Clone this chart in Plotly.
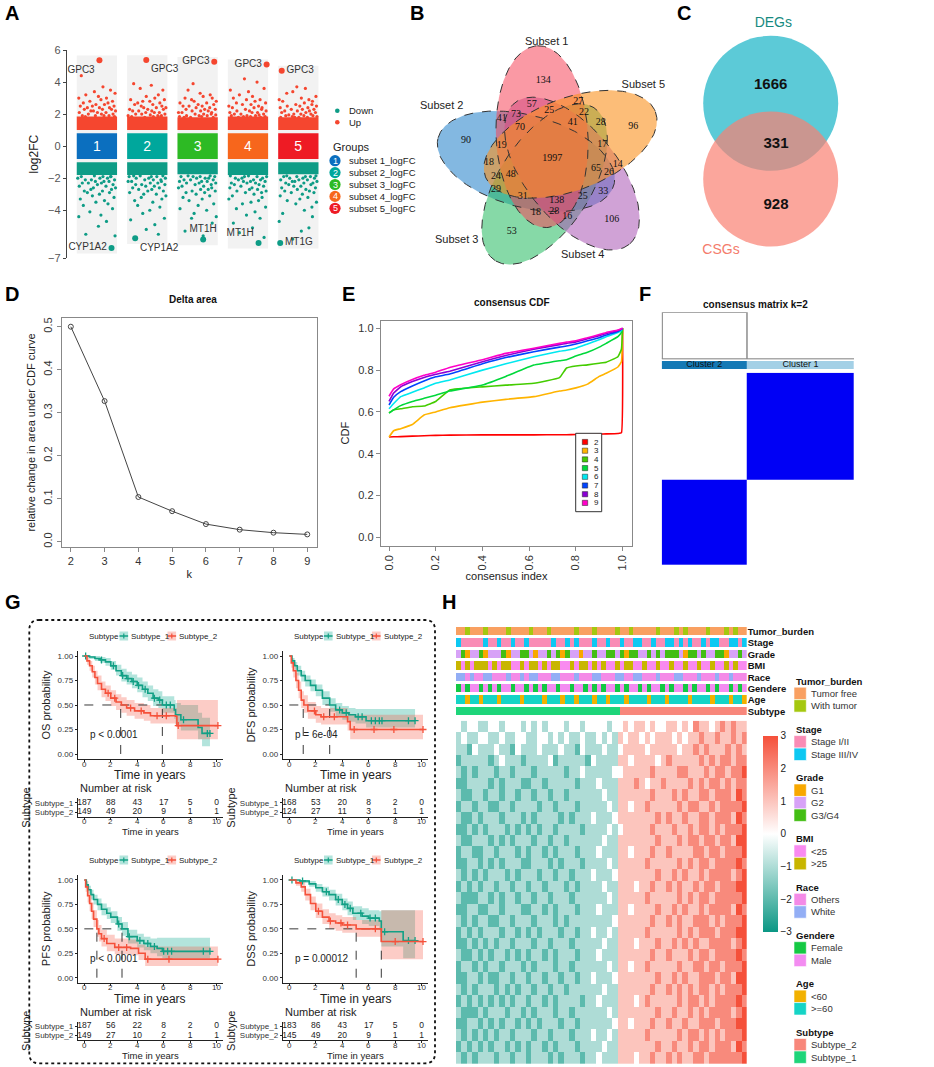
import numpy as np
import plotly.graph_objects as go

W, H = 934, 1067
FONT = "Liberation Sans, Arial, sans-serif"
SERIF = "Liberation Serif, Times New Roman, serif"

def xd(a, b): return [a / W, b / W]
def yd(top, bot): return [1 - bot / H, 1 - top / H]
def px(x): return x / W
def py(y): return 1 - y / H

# ======================= DATA =======================
# ---- Panel A (log2FC per subset)
a_groups = ["subset 1_logFC", "subset 2_logFC", "subset 3_logFC", "subset 4_logFC", "subset 5_logFC"]
a_group_ids = ["1", "2", "3", "4", "5"]
a_up_g1 = [4.4, 3.7, 3.5, 3.4, 3.3, 3.2, 3.1, 3.0, 3.0, 2.9, 2.8, 2.8, 2.7, 2.7, 2.6, 2.6, 2.5, 2.5, 2.5, 2.4, 2.4, 2.4, 2.3, 2.3, 2.3, 2.2, 2.2, 2.2, 2.1, 2.1, 2.1, 2.0, 2.0, 2.0, 1.9, 1.9, 1.9, 1.9, 1.85, 1.85]
a_up_g2 = [3.8, 3.6, 3.5, 3.9, 3.2, 3.1, 3.0, 2.9, 2.9, 2.8, 2.8, 2.7, 2.7, 2.6, 2.6, 2.5, 2.5, 2.4, 2.4, 2.4, 2.3, 2.3, 2.3, 2.2, 2.2, 2.2, 2.1, 2.1, 2.1, 2.0, 2.0, 2.0, 1.95, 1.9, 1.9, 1.9, 1.85, 1.85, 1.85, 1.8]
a_up_g3 = [3.9, 3.3, 3.2, 3.5, 3.1, 3.0, 3.0, 2.9, 2.8, 2.8, 2.7, 2.7, 2.6, 2.6, 2.5, 2.5, 2.5, 2.4, 2.4, 2.3, 2.3, 2.3, 2.2, 2.2, 2.2, 2.1, 2.1, 2.1, 2.0, 2.0, 2.0, 1.95, 1.9, 1.9, 1.9, 1.85, 1.85, 1.8, 1.8, 1.8]
a_up_g4 = [4.2, 4.0, 3.5, 3.4, 3.6, 3.2, 3.1, 3.0, 2.9, 2.9, 2.8, 2.7, 2.7, 2.6, 2.6, 2.5, 2.5, 2.4, 2.4, 2.4, 2.3, 2.3, 2.2, 2.2, 2.2, 2.1, 2.1, 2.1, 2.0, 2.0, 2.0, 1.95, 1.9, 1.9, 1.9, 1.85, 1.85, 1.85, 1.8, 1.8]
a_up_g5 = [3.7, 3.6, 3.3, 3.1, 3.4, 3.0, 2.9, 2.9, 2.8, 2.8, 2.7, 2.6, 2.6, 2.5, 2.5, 2.5, 2.4, 2.4, 2.3, 2.3, 2.3, 2.2, 2.2, 2.2, 2.1, 2.1, 2.1, 2.0, 2.0, 2.0, 1.95, 1.9, 1.9, 1.9, 1.85, 1.85, 1.8, 1.8, 1.8, 1.8]
a_down_g1 = [-5.6, -5.5, -5.0, -4.7, -4.4, -4.3, -4.1, -3.9, -3.7, -3.6, -3.5, -3.4, -3.3, -3.2, -3.1, -3.0, -2.9, -2.9, -2.8, -2.8, -2.7, -2.7, -2.6, -2.6, -2.5, -2.5, -2.4, -2.4, -2.3, -2.3, -2.3, -2.2, -2.2, -2.2, -2.1, -2.1, -2.1, -2.0, -2.0, -2.0, -1.9, -1.9, -1.9, -1.9, -1.85]
a_down_g2 = [-5.5, -5.2, -4.9, -4.6, -4.5, -4.2, -4.0, -3.8, -3.7, -3.5, -3.4, -3.3, -3.2, -3.1, -3.0, -3.0, -2.9, -2.8, -2.8, -2.7, -2.7, -2.6, -2.6, -2.5, -2.5, -2.4, -2.4, -2.4, -2.3, -2.3, -2.2, -2.2, -2.2, -2.1, -2.1, -2.1, -2.0, -2.0, -2.0, -1.9, -1.9, -1.9, -1.85, -1.85, -1.85]
a_down_g3 = [-5.6, -5.3, -4.8, -4.5, -4.4, -4.2, -4.0, -3.9, -3.7, -3.6, -3.4, -3.3, -3.2, -3.1, -3.0, -2.9, -2.9, -2.8, -2.8, -2.7, -2.7, -2.6, -2.6, -2.5, -2.5, -2.4, -2.4, -2.3, -2.3, -2.3, -2.2, -2.2, -2.2, -2.1, -2.1, -2.1, -2.0, -2.0, -2.0, -1.9, -1.9, -1.9, -1.9, -1.85, -1.85]
a_down_g4 = [-5.7, -5.4, -5.1, -4.8, -4.5, -4.3, -4.1, -3.9, -3.8, -3.6, -3.5, -3.4, -3.3, -3.2, -3.1, -3.0, -2.9, -2.9, -2.8, -2.8, -2.7, -2.7, -2.6, -2.6, -2.5, -2.5, -2.4, -2.4, -2.3, -2.3, -2.3, -2.2, -2.2, -2.2, -2.1, -2.1, -2.1, -2.0, -2.0, -2.0, -1.9, -1.9, -1.9, -1.85, -1.85]
a_down_g5 = [-5.8, -5.3, -5.1, -4.7, -4.4, -4.2, -4.0, -3.8, -3.6, -3.5, -3.4, -3.3, -3.2, -3.1, -3.0, -2.9, -2.9, -2.8, -2.8, -2.7, -2.7, -2.6, -2.6, -2.5, -2.5, -2.4, -2.4, -2.3, -2.3, -2.3, -2.2, -2.2, -2.2, -2.1, -2.1, -2.1, -2.0, -2.0, -2.0, -1.9, -1.9, -1.9, -1.9, -1.85, -1.85]
a_up_dense_top = [1.85, 1.85, 1.8, 1.85, 1.8]
a_down_dense_bottom = [-1.8, -1.8, -1.75, -1.8, -1.75]
a_top_genes = ["GPC3", "GPC3", "GPC3", "GPC3", "GPC3"]
a_top_vals = [5.36, 5.37, 5.27, 5.10, 4.71]
a_bottom_genes = ["CYP1A2", "CYP1A2", "MT1H", "MT1H", "MT1G"]
a_bottom_vals = [-6.35, -5.75, -5.83, -6.04, -6.04]
a_legend_dir = ["Down", "Up"]

# ---- Panel B (5-set Venn)
b_sets = ["Subset 1", "Subset 2", "Subset 3", "Subset 4", "Subset 5"]
b_counts = [134, 57, 27, 96, 41, 73, 25, 22, 70, 41, 28, 90, 19, 17, 1997, 18, 14, 48, 65, 26,
            24, 29, 33, 31, 138, 25, 106, 18, 28, 16, 53]

# ---- Panel C (2-set Venn)
c_sets = ["DEGs", "CSGs"]
c_counts = [1666, 331, 928]

# ---- Panel D (delta area)
d_k = [2, 3, 4, 5, 6, 7, 8, 9]
d_delta = [0.500, 0.327, 0.104, 0.071, 0.041, 0.028, 0.021, 0.017]

# ---- Panel E (consensus CDF)
e_index = [0, 0.02, 0.05, 0.1, 0.15, 0.2, 0.26, 0.4, 0.5, 0.62, 0.73, 0.76, 0.8, 0.85, 0.9, 0.93, 0.98, 0.995, 1.0]
e_k = [2, 3, 4, 5, 6, 7, 8, 9]
e_cdf_k2 = [0.48, 0.481, 0.482, 0.484, 0.486, 0.488, 0.489, 0.49, 0.49, 0.49, 0.491, 0.491, 0.492, 0.493, 0.494, 0.495, 0.497, 0.50, 1.0]
e_cdf_k3 = [0.48, 0.51, 0.52, 0.54, 0.585, 0.60, 0.62, 0.647, 0.66, 0.673, 0.70, 0.705, 0.715, 0.733, 0.77, 0.785, 0.815, 0.84, 1.0]
e_cdf_k4 = [0.595, 0.61, 0.615, 0.625, 0.628, 0.65, 0.705, 0.72, 0.728, 0.737, 0.764, 0.81, 0.82, 0.825, 0.833, 0.838, 0.864, 0.90, 1.0]
e_cdf_k5 = [0.595, 0.61, 0.63, 0.65, 0.665, 0.68, 0.70, 0.729, 0.77, 0.824, 0.845, 0.85, 0.867, 0.885, 0.91, 0.928, 0.96, 0.98, 1.0]
e_cdf_k6 = [0.615, 0.64, 0.673, 0.694, 0.715, 0.737, 0.753, 0.80, 0.83, 0.864, 0.89, 0.895, 0.905, 0.925, 0.945, 0.96, 0.98, 0.99, 1.0]
e_cdf_k7 = [0.633, 0.67, 0.697, 0.724, 0.748, 0.768, 0.781, 0.83, 0.86, 0.888, 0.91, 0.915, 0.925, 0.94, 0.955, 0.968, 0.985, 0.995, 1.0]
e_cdf_k8 = [0.65, 0.69, 0.72, 0.745, 0.765, 0.78, 0.795, 0.84, 0.87, 0.90, 0.922, 0.928, 0.935, 0.95, 0.965, 0.975, 0.99, 0.997, 1.0]
e_cdf_k9 = [0.675, 0.71, 0.73, 0.755, 0.775, 0.79, 0.813, 0.85, 0.88, 0.905, 0.928, 0.934, 0.94, 0.955, 0.97, 0.98, 0.992, 0.998, 1.0]

# ---- Panel F (consensus matrix k=2)
f_cluster_names = ["Cluster 2", "Cluster 1"]
f_cluster_sizes = [149, 187]
f_within = 1.0
f_between = 0.0
f_merge_height = 1.0

# ---- Panel G (Kaplan-Meier)
OS_T1 = [0, 0.4, 0.8, 1.2, 1.6, 2.0, 2.4, 2.8, 3.2, 3.6, 4.0, 4.4, 4.8, 5.2, 5.6, 5.9, 6.8, 6.9, 7.3, 8.6, 8.9, 9.5]
OS_S1 = [1.0, 0.99, 0.975, 0.96, 0.94, 0.90, 0.85, 0.80, 0.77, 0.74, 0.70, 0.66, 0.62, 0.57, 0.55, 0.50, 0.45, 0.40, 0.35, 0.27, 0.21, 0.21]
OS_U1 = [1.0, 1.0, 1.0, 0.99, 0.98, 0.95, 0.91, 0.87, 0.84, 0.81, 0.78, 0.74, 0.70, 0.66, 0.64, 0.59, 0.55, 0.52, 0.50, 0.42, 0.37, 0.37]
OS_L1 = [1.0, 0.97, 0.95, 0.93, 0.90, 0.86, 0.80, 0.74, 0.71, 0.67, 0.63, 0.58, 0.54, 0.49, 0.47, 0.42, 0.36, 0.30, 0.24, 0.15, 0.08, 0.08]
OS_T2 = [0, 0.2, 0.4, 0.6, 0.8, 1.0, 1.3, 1.6, 2.0, 2.4, 2.8, 3.2, 3.8, 4.5, 5.0, 6.9, 7.0, 10.1]
OS_S2 = [1.0, 0.95, 0.90, 0.84, 0.78, 0.72, 0.66, 0.62, 0.57, 0.53, 0.50, 0.47, 0.44, 0.42, 0.39, 0.385, 0.29, 0.29]
OS_U2 = [1.0, 0.99, 0.95, 0.90, 0.85, 0.80, 0.74, 0.70, 0.65, 0.61, 0.58, 0.55, 0.52, 0.50, 0.47, 0.47, 0.55, 0.55]
OS_L2 = [1.0, 0.91, 0.85, 0.78, 0.71, 0.65, 0.58, 0.54, 0.49, 0.45, 0.42, 0.39, 0.36, 0.34, 0.31, 0.30, 0.15, 0.15]
OS_C1 = [0.1, 1.3, 2.2, 2.9, 3.3, 3.7, 4.1, 4.6, 5.3, 5.7, 6.2, 6.5, 7.5, 9.3, 9.5]
OS_C2 = [1.8, 2.3, 3.5, 4.3, 5.5, 6.2, 7.1, 10.1]
OS_MED = [2.75, 5.9]
OS_R1 = [187, 88, 43, 17, 5, 0]
OS_R2 = [149, 49, 20, 9, 1, 1]

DFS_T1 = [0, 0.2, 0.4, 0.6, 0.9, 1.2, 1.6, 2.0, 2.5, 3.05, 3.5, 4.0, 4.5, 5.0, 5.8, 9.5]
DFS_S1 = [1.0, 0.95, 0.90, 0.85, 0.80, 0.75, 0.70, 0.65, 0.57, 0.50, 0.45, 0.42, 0.40, 0.38, 0.34, 0.34]
DFS_U1 = [1.0, 0.98, 0.94, 0.90, 0.85, 0.80, 0.76, 0.71, 0.64, 0.57, 0.52, 0.49, 0.47, 0.46, 0.46, 0.46]
DFS_L1 = [1.0, 0.92, 0.86, 0.80, 0.74, 0.69, 0.64, 0.59, 0.50, 0.43, 0.38, 0.35, 0.33, 0.31, 0.27, 0.27]
DFS_T2 = [0, 0.15, 0.3, 0.5, 0.7, 0.9, 1.1, 1.4, 2.0, 2.4, 4.2, 4.4, 4.6, 10.1]
DFS_S2 = [1.0, 0.93, 0.85, 0.75, 0.65, 0.55, 0.50, 0.44, 0.40, 0.38, 0.38, 0.33, 0.25, 0.25]
DFS_U2 = [1.0, 0.98, 0.92, 0.83, 0.74, 0.64, 0.60, 0.53, 0.49, 0.47, 0.47, 0.43, 0.40, 0.40]
DFS_L2 = [1.0, 0.88, 0.78, 0.67, 0.57, 0.47, 0.42, 0.36, 0.32, 0.30, 0.30, 0.24, 0.15, 0.15]
DFS_C1 = [3.8, 4.3, 5.2, 5.5, 6.2, 6.5, 6.8, 7.0, 9.0, 9.5]
DFS_C2 = [1.9, 2.6, 3.4, 4.9, 6.4, 7.9, 10.1]
DFS_MED = [1.05, 3.05]
DFS_R1 = [168, 53, 20, 8, 2, 0]
DFS_R2 = [124, 27, 11, 3, 1, 1]

PFS_T1 = [0, 0.15, 0.3, 0.5, 0.7, 1.0, 1.3, 1.7, 2.0, 2.5, 2.85, 3.3, 4.0, 4.5, 5.0, 5.5, 5.9, 9.5]
PFS_S1 = [1.0, 0.95, 0.90, 0.85, 0.80, 0.75, 0.70, 0.66, 0.62, 0.55, 0.50, 0.42, 0.38, 0.35, 0.32, 0.30, 0.27, 0.27]
PFS_U1 = [1.0, 0.99, 0.94, 0.90, 0.85, 0.81, 0.76, 0.72, 0.68, 0.62, 0.57, 0.49, 0.45, 0.42, 0.40, 0.41, 0.41, 0.41]
PFS_L1 = [1.0, 0.91, 0.86, 0.80, 0.75, 0.69, 0.64, 0.60, 0.56, 0.48, 0.43, 0.35, 0.31, 0.28, 0.25, 0.22, 0.20, 0.20]
PFS_T2 = [0, 0.1, 0.25, 0.4, 0.55, 0.7, 0.95, 1.1, 1.3, 1.7, 2.3, 3.5, 4.1, 4.6, 10.1]
PFS_S2 = [1.0, 0.93, 0.84, 0.76, 0.68, 0.60, 0.50, 0.45, 0.40, 0.35, 0.31, 0.30, 0.25, 0.19, 0.19]
PFS_U2 = [1.0, 0.98, 0.91, 0.84, 0.77, 0.69, 0.59, 0.54, 0.49, 0.44, 0.40, 0.39, 0.34, 0.32, 0.32]
PFS_L2 = [1.0, 0.88, 0.77, 0.68, 0.60, 0.52, 0.42, 0.37, 0.32, 0.27, 0.24, 0.23, 0.18, 0.12, 0.12]
PFS_C1 = [2.6, 3.4, 4.2, 4.8, 5.3, 6.0, 6.3, 6.6, 9.0, 9.5]
PFS_C2 = [1.5, 2.6, 3.2, 4.8, 6.4, 10.1]
PFS_MED = [0.95, 2.85]
PFS_R1 = [187, 56, 22, 8, 2, 0]
PFS_R2 = [149, 27, 10, 2, 1, 1]

DSS_T1 = [0, 0.8, 1.5, 2.0, 2.5, 3.0, 3.5, 4.0, 4.4, 4.8, 5.5, 6.0, 6.8, 6.95, 8.6, 9.5]
DSS_S1 = [1.0, 0.99, 0.96, 0.92, 0.88, 0.85, 0.80, 0.75, 0.71, 0.66, 0.63, 0.61, 0.58, 0.47, 0.38, 0.38]
DSS_U1 = [1.0, 1.0, 0.99, 0.96, 0.93, 0.90, 0.86, 0.81, 0.78, 0.73, 0.71, 0.69, 0.68, 0.69, 0.69, 0.69]
DSS_L1 = [1.0, 0.97, 0.93, 0.88, 0.83, 0.79, 0.74, 0.69, 0.64, 0.59, 0.55, 0.53, 0.49, 0.32, 0.20, 0.20]
DSS_T2 = [0, 0.5, 0.9, 1.2, 1.6, 2.0, 2.5, 3.0, 3.5, 4.0, 5.05, 6.95, 10.1]
DSS_S2 = [1.0, 0.97, 0.93, 0.85, 0.76, 0.68, 0.62, 0.58, 0.56, 0.54, 0.50, 0.37, 0.37]
DSS_U2 = [1.0, 1.0, 0.98, 0.91, 0.83, 0.76, 0.70, 0.66, 0.64, 0.62, 0.59, 0.69, 0.69]
DSS_L2 = [1.0, 0.94, 0.88, 0.79, 0.69, 0.61, 0.55, 0.50, 0.48, 0.46, 0.42, 0.19, 0.19]
DSS_C1 = [0.2, 1.0, 2.8, 3.7, 4.2, 4.6, 5.4, 6.1, 6.5, 7.2, 9.0, 9.5]
DSS_C2 = [2.2, 3.1, 3.9, 4.4, 6.5, 8.0, 10.1]
DSS_MED = [5.05, 6.95]
DSS_R1 = [183, 86, 43, 17, 5, 0]
DSS_R2 = [145, 49, 20, 9, 1, 1]

km_subtypes = ["Subtype_1", "Subtype_2"]
km_pvals = ["p < 0.0001", "p = 6e-04", "p < 0.0001", "p = 0.00012"]
km_ylabels = ["OS probability", "DFS probability", "PFS probability", "DSS probability"]
risk_times = [0, 2, 4, 6, 8, 10]

# ---- Panel H (heatmap + annotations); digits 0..6 -> z = digit - 3
h_rows = [
    "32332 23323 33232 32333 23323 33323 | 3434 4343 3443 4354 4345 4544",
    "23223 32232 23322 33232 32232 23232 | 4344 3434 4434 3445 4454 4545",
    "22132 22322 13222 32223 22132 22322 | 3444 4344 4443 4454 5444 5454",
    "12222 21232 22122 22312 22221 32222 | 4434 4443 4544 4445 4545 5455",
    "21212 22122 12221 22222 12232 22223 | 3444 4454 4445 5444 5455 4556",
    "11222 21212 22112 21222 22122 23222 | 4445 4344 5444 4545 4554 5455",
    "21122 12212 21221 22122 12222 22322 | 4444 4454 4454 5445 5455 5465",
    "12212 21122 12222 12212 22122 22232 | 4434 4544 4445 4554 4545 5556",
    "21121 22212 22121 22221 21222 32223 | 4444 4445 4544 5445 5455 5465",
    "11212 12221 21212 12212 22212 22232 | 3444 4454 4454 4545 5454 5556",
    "21122 21212 12221 22122 12222 22322 | 4444 4445 4445 4554 5545 5466",
    "12211 22122 21212 21212 22122 23222 | 4434 4454 4544 4455 4554 5556",
    "11221 21212 22112 22121 22212 22232 | 4444 4544 4445 4545 5455 5565",
    "21212 12221 21222 12212 21222 32223 | 4444 4445 4454 5445 4555 5456",
    "12121 22122 12212 21222 12122 22322 | 4443 4454 4545 4454 5545 5566",
    "21112 21212 21221 22122 21222 22232 | 4444 4544 4445 4545 5455 5556",
    "11221 12212 22112 21212 22122 23222 | 4434 4445 4454 5445 4555 5465",
    "21212 21122 12221 22212 12222 22223 | 4444 4454 4545 4455 5454 5556",
    "12121 22212 21212 12221 22122 32232 | 4444 4544 4445 4545 5545 5566",
    "11212 12122 12221 22122 21222 22322 | 4443 4445 4454 5454 4555 5456",
    "21121 21221 21212 21212 22122 23222 | 4444 4454 4544 4545 5455 5565",
    "12212 12212 22121 22212 21222 22232 | 4434 4544 4445 4455 4554 5556",
    "11221 21122 12212 21221 22122 32223 | 4444 4445 4454 5445 5545 5466",
    "21212 22121 21221 22122 12222 22322 | 4444 4454 4545 4545 5454 5556",
    "12121 21212 12212 21212 22212 23222 | 4443 4544 4445 4554 5455 5565",
    "21112 12221 22121 22212 21222 22232 | 4444 4445 4454 4545 4555 5456",
    "11221 21212 21212 12221 22122 22223 | 4434 4454 4544 5445 5545 5566",
    "21212 12122 12221 22122 21222 32232 | 4444 4544 4445 4554 5454 5556",
    "12121 21221 21212 21212 22122 22322 | 4444 4445 4454 4545 5455 5465",
    "21212 22122 12212 22121 22212 23222 | 4443 4454 4545 4455 4555 5556",
]
h_track_names = ["Tumor_burden", "Stage", "Grade", "BMI", "Race", "Gendere", "Age", "Subtype"]
h_tracks = [
    "ffwfffwf fffwffff wfffwfff ffwfffwf fffwffwf ffffwfff wfwffffw fffwfwff",
    "leeeeele eleeleel eeeeelee leleeele eleeleel leeleell eleleele lleellel",
    "23122312 22312233 21223231 32212232 23323133 22323233 32133232 23312232",
    "ououooou ouoouuou oououoou uouoouou ouuouoou uouuouuo uuouuouu ouuououu",
    "yyxyxxyy xxxyxxyx yyxxxyyx xxyxxxyy xxxyyxxy yxxxyxxx yyxxxyxx xyxxyxxx",
    "FMFMMFMF MFMMFMMF MFMFMMFM MFMMFMFM FMMFMFMM FMFMMFMF MMFMFMMF MFMMFMFM",
    "bbabbabb babbbbab bbbabbba bbabbbab babbbabb bbabbbab bbbabbbb abbbabba",
    "11111111 11111111 11111111 11111111 11112222 22222222 22222222 22222222",
]
h_track_codes = [
    {"f": "Tumor free", "w": "With tumor"},
    {"e": "Stage I/II", "l": "Stage III/IV"},
    {"1": "G1", "2": "G2", "3": "G3/G4"},
    {"u": "<25", "o": ">25"},
    {"x": "Others", "y": "White"},
    {"F": "Female", "M": "Male"},
    {"a": "<60", "b": ">=60"},
    {"2": "Subtype_2", "1": "Subtype_1"},
]
h_legend_levels = [
    ["Tumor free", "With tumor"], ["Stage I/II", "Stage III/IV"], ["G1", "G2", "G3/G4"],
    ["<25", ">25"], ["Others", "White"], ["Female", "Male"], ["<60", ">=60"],
    ["Subtype_2", "Subtype_1"],
]

# ======================= STYLE =======================
A_UP = "#F5462F"
A_DOWN = "#0E9C86"
A_BOX = ["#0B6FBF", "#00A79C", "#2DBA24", "#F7661C", "#EE1B24"]
TEAL = "#12A085"
RED = "#F5513B"
TEAL_F = "rgba(18,170,145,0.32)"
RED_F = "rgba(245,85,65,0.30)"
E_COLORS = ["#FF0000", "#FFB400", "#44CC00", "#00D83A", "#00E8F0", "#0044FF", "#8A00D4", "#FF00C8"]
B_FILLS = ["rgba(245,70,90,0.55)", "rgba(30,125,200,0.55)", "rgba(35,185,95,0.55)",
           "rgba(170,85,180,0.55)", "rgba(250,145,30,0.6)"]
B_DRAW_ORDER = [1, 2, 3, 0, 4]
CAT_COLORS = {
    "Tumor free": "#F9A061", "With tumor": "#A5C80F",
    "Stage I/II": "#F98CB5", "Stage III/IV": "#0DC8F2",
    "G1": "#F8A800", "G2": "#D7A2F7", "G3/G4": "#43BE14",
    "<25": "#F98AF0", ">25": "#C8B600",
    "Others": "#F48AE7", "White": "#93AEF5",
    "Female": "#14C943", "Male": "#F38CF1",
    "<60": "#F2B100", ">=60": "#15D4C6",
    "Subtype_2": "#F8877B", "Subtype_1": "#1ED57A",
}

def esc(s):
    return s.replace("&", "&amp;").replace("<", "&lt;").replace(">", "&gt;")

# ======================= BUILD =======================
traces = []
shapes = []
annotations = []
layout = dict(width=W, height=H, margin=dict(l=0, r=0, t=0, b=0, autoexpand=False),
              paper_bgcolor="white", plot_bgcolor="white", template="none",
              font=dict(family=FONT, size=10, color="#222"),
              barmode="overlay", showlegend=False)

def refs(n):
    return ("x", "y") if n == 1 else (f"x{n}", f"y{n}")

def add_axes(n, xdom, ydom, xa, ya):
    xr, yr = refs(n)
    xa = dict(xa); ya = dict(ya)
    xa.update(domain=xdom, anchor=yr, automargin=False)
    ya.update(domain=ydom, anchor=xr, automargin=False)
    layout["xaxis" if n == 1 else f"xaxis{n}"] = xa
    layout["yaxis" if n == 1 else f"yaxis{n}"] = ya

def add(tr, n):
    xr, yr = refs(n)
    tr.update(xaxis=xr, yaxis=yr, hoverinfo="skip", showlegend=False)
    traces.append(tr)

def txt(x, y, s, size=10, color="#222", bold=False, xanchor="center", yanchor="middle",
        family=FONT, angle=0):
    annotations.append(dict(x=px(x), y=py(y), xref="paper", yref="paper",
                            text=(f"<b>{s}</b>" if bold else s), showarrow=False,
                            font=dict(size=size, color=color, family=family),
                            xanchor=xanchor, yanchor=yanchor, textangle=angle))

def rect(x0, y0, x1, y1, fill, line="rgba(0,0,0,0)", lw=0):
    shapes.append(dict(type="rect", xref="paper", yref="paper", x0=px(x0), x1=px(x1),
                       y0=py(y1), y1=py(y0), fillcolor=fill, line=dict(color=line, width=lw)))

def seg(x0, y0, x1, y1, color, lw=1):
    shapes.append(dict(type="line", xref="paper", yref="paper", x0=px(x0), x1=px(x1),
                       y0=py(y0), y1=py(y1), line=dict(color=color, width=lw)))

def circ(cx, cy, r, fill):
    shapes.append(dict(type="circle", xref="paper", yref="paper", x0=px(cx - r), x1=px(cx + r),
                       y0=py(cy + r), y1=py(cy - r), fillcolor=fill, line=dict(width=0)))

HID = dict(visible=False, showgrid=False, zeroline=False, fixedrange=True)

# panel letters
for L, x, y in [("A", 3, 13), ("B", 408, 13), ("C", 675, 13), ("D", 3, 294), ("E", 340, 294),
                ("F", 637, 294), ("G", 3, 602), ("H", 440, 602)]:
    txt(x, y, L, 20, "#000", True, "left")

# ---------------- Panel A ----------------
add_axes(1, xd(66.7, 322), yd(50, 258.3),
         dict(HID, range=[0.4, 5.47]),
         dict(range=[-7, 6], tickvals=[6, 4, 2, 0, -2, -4, -7],
              ticktext=["6", "4", "2", "0", "\u22122", "\u22124", "\u22127"],
              showline=True, linecolor="#444", linewidth=1, ticks="outside", ticklen=3,
              tickcolor="#444", tickfont=dict(size=11, color="#555"), showgrid=False,
              zeroline=False, title=dict(text="log2FC", font=dict(size=12, color="#222"), standoff=6)))
pos = [1, 2, 3, 4, 5]
a_jitter = [-0.31, 0.12, 0.27, -0.05, 0.36, -0.22, 0.03, 0.19, -0.36, 0.08, -0.14, 0.31, -0.27, 0.22,
            -0.02, 0.15, -0.33, 0.34, -0.09, 0.05, 0.25, -0.19, 0.11, -0.25, 0.29, -0.12, 0.37, -0.07,
            0.18, -0.35, 0.01, 0.32, -0.17, 0.09, -0.29, 0.24, -0.03, 0.14, -0.23, 0.35, -0.11, 0.06,
            0.21, -0.38, 0.28]
ups = [a_up_g1, a_up_g2, a_up_g3, a_up_g4, a_up_g5]
downs = [a_down_g1, a_down_g2, a_down_g3, a_down_g4, a_down_g5]
top_dx = [0.05, -0.02, 0.33, 0.37, -0.33]
bot_dx = [0.29, -0.24, 0.11, 0.21, -0.36]
top_tp = ["bottom left", "bottom right", "middle left", "middle left", "middle right"]
bot_tp = ["middle left", "bottom right", "top center", "top left", "middle right"]
col_top = [max(ups[g] + [a_top_vals[g]]) + 0.3 for g in range(5)]
col_bot = [min(downs[g] + [a_bottom_vals[g]]) - 0.35 for g in range(5)]
add(go.Bar(x=pos, y=[t - b for t, b in zip(col_top, col_bot)], base=col_bot, width=0.8,
           marker=dict(color="#F2F2F2", line=dict(width=0))), 1)
add(go.Bar(x=pos, y=[t - 1.0 for t in a_up_dense_top], base=1.0, width=0.8,
           marker=dict(color=A_UP, line=dict(width=0))), 1)
add(go.Bar(x=pos, y=[b + 1.0 for b in a_down_dense_bottom], base=-1.0, width=0.8,
           marker=dict(color=A_DOWN, line=dict(width=0))), 1)
ux, uy, dx_, dy_ = [], [], [], []
for g in range(5):
    rot = (g * 9) % len(a_jitter)
    jj = a_jitter[rot:] + a_jitter[:rot]
    for i, v in enumerate(ups[g]):
        ux.append(pos[g] + jj[i % len(jj)]); uy.append(v)
    for i, v in enumerate(downs[g]):
        dx_.append(pos[g] + jj[(i + 4) % len(jj)]); dy_.append(v)
add(go.Scatter(x=ux, y=uy, mode="markers", marker=dict(size=3.2, color=A_UP)), 1)
add(go.Scatter(x=dx_, y=dy_, mode="markers", marker=dict(size=3.2, color=A_DOWN)), 1)
add(go.Scatter(x=[p + d for p, d in zip(pos, top_dx)], y=a_top_vals, mode="markers+text",
               text=a_top_genes, textposition=top_tp, marker=dict(size=6, color=A_UP),
               textfont=dict(size=10, color="#333")), 1)
add(go.Scatter(x=[p + d for p, d in zip(pos, bot_dx)], y=a_bottom_vals, mode="markers+text",
               text=a_bottom_genes, textposition=bot_tp, marker=dict(size=6, color=A_DOWN),
               textfont=dict(size=10, color="#333")), 1)
add(go.Bar(x=pos, y=[1.6] * 5, base=-0.8, width=0.8, marker=dict(color=A_BOX, line=dict(width=0)),
           text=a_group_ids, textposition="inside", insidetextanchor="middle", textangle=0,
           textfont=dict(color="white", size=14)), 1)
# legend A
circ(337.3, 110.7, 2.3, A_DOWN); txt(346.7, 110.7, a_legend_dir[0], 9.5, "#222", xanchor="left")
circ(337.3, 122.3, 2.3, A_UP); txt(346.7, 122.3, a_legend_dir[1], 9.5, "#222", xanchor="left")
txt(331, 147.3, "Groups", 11, "#222", xanchor="left")
for i, (gid, gname) in enumerate(zip(a_group_ids, a_groups)):
    yy = 160.7 + i * 11.9
    circ(335, yy, 5.6, A_BOX[i])
    txt(335, yy, gid, 9, "white")
    txt(347.3, yy, gname, 9.5, "#222", xanchor="left")

# ---------------- Panel B ----------------
add_axes(2, xd(400, 680), yd(20, 270), dict(HID, range=[400, 680]), dict(HID, range=[270, 20]))
b_center = (551.0, 160.0)
b_order = [0, 4, 3, 2, 1]  # set index for rotation step k
b_d, b_a, b_b = 25.0, 91.0, 46.0
tt = np.linspace(0, 2 * np.pi, 241)
ell = {}
for k, si in enumerate(b_order):
    off = np.radians(111 - 72 * k)
    ax_ = np.radians(93 - 72 * k)
    cx = b_center[0] + b_d * np.cos(off)
    cy = b_center[1] - b_d * np.sin(off)
    u = np.array([np.cos(ax_), -np.sin(ax_)])
    v = np.array([np.sin(ax_), np.cos(ax_)])
    ex = cx + b_a * np.cos(tt) * u[0] + b_b * np.sin(tt) * v[0]
    ey = cy + b_a * np.cos(tt) * u[1] + b_b * np.sin(tt) * v[1]
    ell[si] = (ex, ey)
for si in B_DRAW_ORDER:
    ex, ey = ell[si]
    add(go.Scatter(x=ex, y=ey, mode="lines", fill="toself", fillcolor=B_FILLS[si],
                   line=dict(width=0)), 2)
for si in range(5):
    ex, ey = ell[si]
    add(go.Scatter(x=ex, y=ey, mode="lines", line=dict(color="#333", width=1, dash="dash")), 2)
b_count_pos = [(543.3, 80), (531.7, 104), (578.3, 101.7), (633.3, 126), (501.7, 118.3), (516, 114.3),
               (549.3, 110.7), (584, 112.3), (520, 127.7), (572.7, 122.3), (600.7, 122.7), (466, 140.7),
               (501.7, 145), (602.3, 144), (552.3, 158.3), (489, 162.7), (617.7, 164), (510.7, 174.3),
               (596, 168.3), (609, 172.7), (496, 176.7), (496, 189), (603.3, 191.7), (522.7, 196.7),
               (556.7, 200.7), (582.7, 196.7), (611.7, 219), (536, 212.3), (554.3, 211.7), (567.3, 216.7),
               (511.7, 231.7)]
add(go.Scatter(x=[p[0] for p in b_count_pos], y=[p[1] for p in b_count_pos], mode="text",
               text=[str(c) for c in b_counts], textfont=dict(family=SERIF, size=10, color="#111")), 2)
b_label_pos = [(546.7, 42.7), (441.7, 106), (456.7, 240.7), (582.7, 255.3), (643.3, 85.7)]
add(go.Scatter(x=[p[0] for p in b_label_pos], y=[p[1] for p in b_label_pos], mode="text",
               text=b_sets, textfont=dict(size=11, color="#222")), 2)

# ---------------- Panel C ----------------
add_axes(3, xd(680, 934), yd(0, 270), dict(HID, range=[680, 934]), dict(HID, range=[270, 0]))
c_circles = [(770.7, 103.3, 67.5, "rgba(70,195,210,0.88)"), (770.7, 179.0, 67.5, "rgba(250,128,114,0.70)")]
for cx, cy, r, col in c_circles:
    shapes.append(dict(type="circle", xref="x3", yref="y3", x0=cx - r, x1=cx + r, y0=cy - r, y1=cy + r,
                       fillcolor=col, line=dict(width=0), layer="below"))
add(go.Scatter(x=[770.7, 776, 776], y=[85, 144, 205], mode="text",
               text=[f"<b>{c}</b>" for c in c_counts], textfont=dict(size=15, color="#111")), 3)
add(go.Scatter(x=[773.3, 721], y=[23.3, 250], mode="text", text=c_sets,
               textfont=dict(size=14, color=["#178A80", "#F47C6C"])), 3)

# ---------------- Panel D ----------------
RAX = dict(showline=True, mirror=True, linecolor="#888", linewidth=1, ticks="outside", ticklen=4,
           tickcolor="#888", showgrid=False, zeroline=False, tickfont=dict(size=11, color="#333"))
add_axes(4, xd(61.7, 316.7), yd(318.3, 546.7),
         dict(RAX, range=[1.73, 9.28], tickvals=d_k, title=dict(text="k", font=dict(size=11), standoff=4)),
         dict(RAX, range=[-0.0116, 0.5195], tickvals=[0, 0.1, 0.2, 0.3, 0.4, 0.5], tickformat=".1f",
              tickangle=-90,
              title=dict(text="relative change in area under CDF curve", font=dict(size=11), standoff=4)))
add(go.Scatter(x=d_k, y=d_delta, mode="lines+markers", line=dict(color="#444", width=1),
               marker=dict(symbol="circle-open", size=5, color="#444", line=dict(width=1))), 4)
txt(193, 299, "Delta area", 10, "#111", True)

# ---------------- Panel E ----------------
add_axes(5, xd(380.7, 632.3), yd(320.7, 545.7),
         dict(RAX, range=[-0.0356, 1.0416], tickvals=[0, 0.2, 0.4, 0.6, 0.8, 1.0], tickformat=".1f",
              tickangle=-90, title=dict(text="consensus index", font=dict(size=11), standoff=2)),
         dict(RAX, range=[-0.04, 1.0364], tickvals=[0, 0.2, 0.4, 0.6, 0.8, 1.0], tickformat=".1f",
              title=dict(text="CDF", font=dict(size=11), standoff=6)))
e_cdfs = [e_cdf_k2, e_cdf_k3, e_cdf_k4, e_cdf_k5, e_cdf_k6, e_cdf_k7, e_cdf_k8, e_cdf_k9]
for k, cdf, col in zip(e_k, e_cdfs, E_COLORS):
    add(go.Scatter(x=e_index, y=cdf, mode="lines", line=dict(color=col, width=1.6, shape="spline",
                                                             smoothing=0.3)), 5)
txt(511.7, 302.7, "consensus CDF", 10, "#111", True)
rect(575.7, 433.3, 601.7, 511.7, "white", "#333", 1)
for i, (k, col) in enumerate(zip(e_k, E_COLORS)):
    yy = 442 + i * 8.7
    rect(582.3, yy - 2.6, 587.7, yy + 2.6, col, "#222", 0.5)
    txt(592, yy, str(k), 8, "#222", xanchor="left")

# ---------------- Panel F ----------------
n_tot = sum(f_cluster_sizes)
f_edges = [0, f_cluster_sizes[0], n_tot]
f_row_edges = [0, f_cluster_sizes[1], n_tot]
add_axes(6, xd(661.7, 854), yd(372.7, 565), dict(HID, range=[0, n_tot]), dict(HID, range=[n_tot, 0]))
add(go.Heatmap(x=f_edges, y=f_row_edges, z=[[f_between, f_within], [f_within, f_between]],
               colorscale=[[0, "#FFFFFF"], [1, "#0000F5"]], zmin=0, zmax=1, showscale=False), 6)
add_axes(7, xd(661.7, 854), yd(312.3, 359.5), dict(HID, range=[0, n_tot]),
         dict(HID, range=[-0.01, f_merge_height]))
c2 = f_cluster_sizes[0]
add(go.Scatter(x=[0.8, 0.8, c2, c2, None, 0, n_tot],
               y=[0, f_merge_height, f_merge_height, 0, None, 0, 0],
               mode="lines", line=dict(color="#8C8C8C", width=1.5)), 7)
add_axes(8, xd(661.7, 854), yd(361, 369.3), dict(HID, range=[0, n_tot]), dict(HID, range=[-0.5, 0.5]))
add(go.Heatmap(x=f_edges, y=[-0.5, 0.5], z=[[0, 1]], colorscale=[[0, "#1479B5"], [1, "#A3D0E6"]],
               zmin=0, zmax=1, showscale=False), 8)
add(go.Scatter(x=[f_edges[0] + f_cluster_sizes[0] / 2, f_edges[1] + f_cluster_sizes[1] / 2], y=[0, 0],
               mode="text", text=f_cluster_names, textfont=dict(size=9, color="#111")), 8)
txt(755.7, 304.3, "consensus matrix k=2", 10, "#111", True)

# ---------------- Panel G ----------------
x0g, x1g, y0g, y1g = px(29.3), px(435), py(620), py(1063.3)
rx, ry = 10 / W, 10 / H
path = (f"M {x0g+rx},{y0g} L {x1g-rx},{y0g} Q {x1g},{y0g} {x1g},{y0g-ry} L {x1g},{y1g+ry} "
        f"Q {x1g},{y1g} {x1g-rx},{y1g} L {x0g+rx},{y1g} Q {x0g},{y1g} {x0g},{y1g+ry} "
        f"L {x0g},{y0g-ry} Q {x0g},{y0g} {x0g+rx},{y0g} Z")
shapes.append(dict(type="path", xref="paper", yref="paper", path=path,
                   line=dict(color="#111", width=1.8, dash="dot")))

def step_at(ts, ss, c):
    idx = max(i for i, t in enumerate(ts) if t <= c)
    return ss[idx]

km_sets = [
    (OS_T1, OS_S1, OS_U1, OS_L1, OS_C1, OS_T2, OS_S2, OS_U2, OS_L2, OS_C2, OS_MED, OS_R1, OS_R2),
    (DFS_T1, DFS_S1, DFS_U1, DFS_L1, DFS_C1, DFS_T2, DFS_S2, DFS_U2, DFS_L2, DFS_C2, DFS_MED, DFS_R1, DFS_R2),
    (PFS_T1, PFS_S1, PFS_U1, PFS_L1, PFS_C1, PFS_T2, PFS_S2, PFS_U2, PFS_L2, PFS_C2, PFS_MED, PFS_R1, PFS_R2),
    (DSS_T1, DSS_S1, DSS_U1, DSS_L1, DSS_C1, DSS_T2, DSS_S2, DSS_U2, DSS_L2, DSS_C2, DSS_MED, DSS_R1, DSS_R2),
]
km_xpx = [(77.7, 223.2), (282.7, 428.3), (77.7, 223.2), (282.7, 428.3)]
km_ypx = [(651.1, 758.9), (651.1, 758.9), (875.1, 982.6), (875.1, 982.6)]
tab_ypx = [(798.2, 816.7), (798.2, 816.7), (1021.5, 1040), (1021.5, 1040)]
km_xtitle_y = [775.0, 775.0, 999.0, 999.0]
tab_xtitle_y = [831.5, 831.5, 1055.5, 1055.5]
leg_off = [(0, 636), (204.5, 636), (0, 860), (204.5, 860)]
nar_pos = [(78.3, 787.7), (283.3, 787.7), (78.3, 1012), (283.3, 1012)]
KMX = dict(showline=True, linecolor="#222", linewidth=1, ticks="outside", ticklen=2, tickcolor="#222",
           showgrid=False, zeroline=False, tickfont=dict(size=8, color="#333"))

def xtick_labels(n, ypx_bottom):
    for t in risk_times:
        annotations.append(dict(x=t, y=py(ypx_bottom + 5.2), xref=refs(n)[0], yref="paper",
                                text=str(t), showarrow=False, xanchor="center", yanchor="middle",
                                font=dict(size=8, color="#333")))

for p, (T1, S1, U1, L1, C1, T2, S2, U2, L2, C2, MED, R1, R2) in enumerate(km_sets):
    nk, nt = 9 + 2 * p, 10 + 2 * p
    xa0, xa1 = km_xpx[p]
    add_axes(nk, xd(xa0, xa1), yd(*km_ypx[p]),
             dict(KMX, range=[-0.5, 10.5], tickvals=risk_times, showticklabels=False),
             dict(KMX, range=[-0.05, 1.05], tickvals=[0, 0.25, 0.5, 0.75, 1.0], tickformat=".2f",
                  title=dict(text=km_ylabels[p], font=dict(size=11, color="#222"), standoff=4)))
    xtick_labels(nk, km_ypx[p][1])
    xc = xa0 + (xa1 - xa0) * 5.5 / 11.0
    txt(xc, km_xtitle_y[p], "Time in years", 12, "#222")
    for T, U, L, fc in [(T1, U1, L1, TEAL_F), (T2, U2, L2, RED_F)]:
        add(go.Scatter(x=T, y=U, mode="lines", line=dict(width=0, shape="hv")), nk)
        add(go.Scatter(x=T, y=L, mode="lines", line=dict(width=0, shape="hv"), fill="tonexty",
                       fillcolor=fc), nk)
    mx = max(MED)
    mxs = [0, mx, None]
    mys = [0.5, 0.5, None]
    for m in MED:
        mxs += [m, m, None]; mys += [0, 0.5, None]
    add(go.Scatter(x=mxs, y=mys, mode="lines", line=dict(color="#222", width=0.9, dash="dash")), nk)
    for T, S, C, col in [(T1, S1, C1, TEAL), (T2, S2, C2, RED)]:
        add(go.Scatter(x=T, y=S, mode="lines", line=dict(color=col, width=1.6, shape="hv")), nk)
        add(go.Scatter(x=C, y=[step_at(T, S, c) for c in C], mode="markers",
                       marker=dict(symbol="cross-thin", size=5, line=dict(color=col, width=1.3))), nk)
    annotations.append(dict(x=0.25, y=0.2, xref=refs(nk)[0], yref=refs(nk)[1], text=km_pvals[p],
                            showarrow=False, xanchor="left", yanchor="middle",
                            font=dict(size=10, color="#222")))
    # legend (manual)
    ox, ly = leg_off[p]
    txt(87.3 + ox, ly, "Subtype", 8, "#222", xanchor="left")
    for kx, col, fc, name, tx in [(119.5, TEAL, TEAL_F, km_subtypes[0], 129.2),
                                  (167.5, RED, RED_F, km_subtypes[1], 177.2)]:
        rect(kx + ox, ly - 4.5, kx + ox + 8.6, ly + 4.5, fc)
        seg(kx + ox, ly, kx + ox + 8.6, ly, col, 1.5)
        seg(kx + ox + 4.3, ly - 2.6, kx + ox + 4.3, ly + 2.6, col, 1.2)
        txt(tx + ox, ly, name, 8, "#222", xanchor="left")
    # risk table
    add_axes(nt, xd(xa0, xa1), yd(*tab_ypx[p]),
             dict(KMX, range=[-0.5, 10.5], tickvals=risk_times, showticklabels=False),
             dict(KMX, range=[0.5, 2.5], tickvals=[2, 1], ticktext=km_subtypes,
                  tickfont=dict(size=8, color="#333"),
                  title=dict(text="Subtype", font=dict(size=11, color="#222"), standoff=1)))
    xtick_labels(nt, tab_ypx[p][1])
    txt(xc, tab_xtitle_y[p], "Time in years", 9.5, "#222")
    add(go.Scatter(x=risk_times + risk_times, y=[2] * 6 + [1] * 6, mode="text",
                   text=[str(v) for v in R1 + R2], textfont=dict(size=8.5, color="#222")), nt)
    txt(nar_pos[p][0], nar_pos[p][1], "Number at risk", 11, "#222", xanchor="left")

# ---------------- Panel H ----------------
all_cats = [c for lv in h_legend_levels for c in lv]
NC = len(all_cats)
cs = []
for k, c in enumerate(all_cats):
    cs += [[k / NC, CAT_COLORS[c]], [(k + 1) / NC, CAT_COLORS[c]]]
track_z = []
for s, codes in zip(h_tracks, h_track_codes):
    s = s.replace(" ", "")
    track_z.append([all_cats.index(codes[ch]) + 0.5 for ch in s])
ntr = min(len(r) for r in track_z)
track_z = [r[:ntr] for r in track_z]
add_axes(17, xd(456, 746.7), yd(626, 717), dict(HID, range=[-0.5, ntr - 0.5]),
         dict(range=[len(h_track_names) - 0.5, -0.5], showgrid=False, zeroline=False, showline=False,
              side="right", tickvals=list(range(len(h_track_names))),
              ticktext=[f"<b>{n}</b>" for n in h_track_names], ticks="",
              tickfont=dict(size=9.5, color="#111")))
add(go.Heatmap(z=track_z, x=list(range(ntr)), y=list(range(len(h_track_names))), colorscale=cs,
               zmin=0, zmax=NC, showscale=False, ygap=3), 17)
hz = []
for r in h_rows:
    s = r.replace(" ", "").replace("|", "")
    hz.append([int(ch) - 3 for ch in s])
ncol = min(len(r) for r in hz)
hz = [r[:ncol] for r in hz]
add_axes(18, xd(456, 746.7), yd(720.7, 1064), dict(HID, range=[-0.5, ncol - 0.5]),
         dict(HID, range=[len(hz) - 0.5, -0.5]))
add(go.Heatmap(z=hz, colorscale=[[0, "#0B9784"], [0.5, "#FFFFFF"], [1, "#F5503A"]], zmin=-3, zmax=3,
               colorbar=dict(x=px(753), xanchor="left", y=py(725.7), yanchor="top", thickness=15,
                             len=(941.7 - 725.7) / H, lenmode="fraction", outlinewidth=0, ticks="",
                             tickvals=[3, 2, 1, 0, -1, -2, -3],
                             ticktext=["3", "2", "1", "0", "\u22121", "\u22122", "\u22123"],
                             tickfont=dict(size=10, color="#222"))), 18)
yy = 681.0
for name, levels in zip(h_track_names, h_legend_levels):
    txt(794, yy, f"<b>{name}</b>", 9.5, "#111", xanchor="left")
    yy += 12.4
    for lv in levels:
        rect(794, yy - 6.2, 806.3, yy + 6.2, CAT_COLORS[lv], "white", 0.6)
        txt(809, yy, esc(lv), 9.5, "#333", xanchor="left")
        yy += 12.5
    yy += 11.0

layout["shapes"] = shapes
layout["annotations"] = annotations
fig = go.Figure(data=traces, layout=layout)
fig.write_html("out.html", config={"displayModeBar": False},
               post_script="document.body.style.margin='0px';document.body.style.overflow='hidden';")
